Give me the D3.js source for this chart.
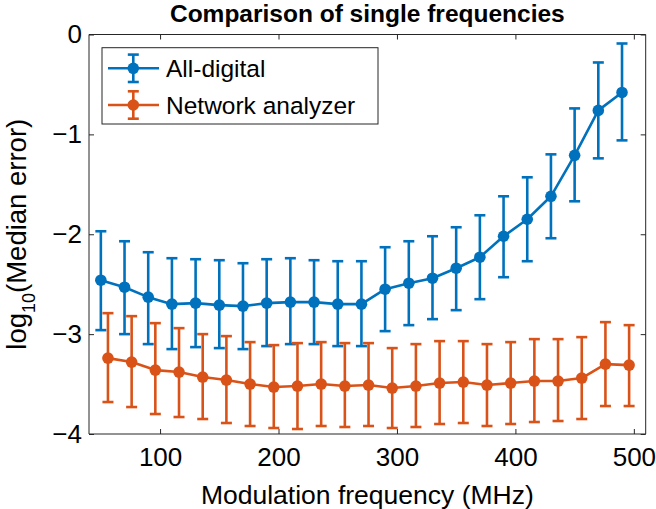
<!DOCTYPE html>
<html>
<head>
<meta charset="utf-8">
<script src="https://cdn.jsdelivr.net/npm/d3@7"></script>
<style>
  html, body { margin: 0; padding: 0; background: #fff; }
  svg { display: block; font-family: "Liberation Sans", Arial, sans-serif; }
</style>
</head>
<body>
<svg id="chart" width="656" height="509"></svg>
<script>
// ---- data ----
const blueX   = [50,70,90,110,130,150,170,190,210,230,250,270,290,310,330,350,370,390,410,430,450,470,490];
const blueY   = [-2.46,-2.53,-2.63,-2.70,-2.69,-2.71,-2.72,-2.69,-2.68,-2.68,-2.70,-2.70,-2.55,-2.49,-2.44,-2.34,-2.23,-2.02,-1.85,-1.62,-1.21,-0.76,-0.58];
const blueHi  = [-1.97,-2.07,-2.18,-2.24,-2.25,-2.26,-2.29,-2.25,-2.24,-2.26,-2.27,-2.27,-2.13,-2.07,-2.02,-1.93,-1.81,-1.62,-1.43,-1.20,-0.74,-0.28,-0.09];
const blueLo  = [-2.96,-3.00,-3.10,-3.15,-3.13,-3.14,-3.15,-3.12,-3.10,-3.10,-3.12,-3.12,-2.97,-2.91,-2.85,-2.76,-2.65,-2.43,-2.27,-2.04,-1.67,-1.24,-1.06];

const orangeX  = [56,76,96,116,136,156,176,196,216,236,256,276,296,316,336,356,376,396,416,436,456,476,496];
const orangeY  = [-3.24,-3.28,-3.36,-3.38,-3.43,-3.46,-3.50,-3.53,-3.52,-3.50,-3.52,-3.51,-3.54,-3.52,-3.49,-3.48,-3.51,-3.49,-3.47,-3.47,-3.44,-3.30,-3.31];
const orangeHi = [-2.79,-2.82,-2.89,-2.94,-3.00,-3.02,-3.08,-3.11,-3.09,-3.08,-3.09,-3.09,-3.14,-3.10,-3.07,-3.07,-3.10,-3.08,-3.05,-3.05,-3.03,-2.88,-2.91];
const orangeLo = [-3.68,-3.73,-3.80,-3.83,-3.85,-3.89,-3.92,-3.94,-3.95,-3.92,-3.93,-3.92,-3.94,-3.93,-3.90,-3.89,-3.92,-3.90,-3.88,-3.87,-3.85,-3.72,-3.72];

const seriesNames = ["All-digital", "Network analyzer"];
const seriesColors = ["#0072BD", "#D95319"];
const xTicks = [100, 200, 300, 400, 500];
const yTicks = [0, -1, -2, -3, -4];
const xDomain = [40, 510];
const yDomain = [-4, 0];
const titleText = "Comparison of single frequencies";
const xLabelText = "Modulation frequency (MHz)";

// ---- layout ----
const L = 89, R = 645.7, T = 34.5, B = 434;
const svg = d3.select("#chart");
const x = d3.scaleLinear().domain(xDomain).range([L, R]);
const y = d3.scaleLinear().domain(yDomain).range([B, T]);
const axisColor = "#262626";
const fmt = d => (d < 0 ? "\u2212" : "") + Math.abs(d);

// axes box and ticks
const gx = svg.append("g").attr("transform", `translate(0,${B})`)
  .call(d3.axisBottom(x).tickValues(xTicks).tickSize(-5).tickPadding(14).tickFormat(fmt));
const gxt = svg.append("g").attr("transform", `translate(0,${T})`)
  .call(d3.axisTop(x).tickValues(xTicks).tickSize(-5).tickFormat(""));
const gy = svg.append("g").attr("transform", `translate(${L},0)`)
  .call(d3.axisLeft(y).tickValues(yTicks).tickSize(-5).tickPadding(7).tickFormat(fmt));
const gyr = svg.append("g").attr("transform", `translate(${R},0)`)
  .call(d3.axisRight(y).tickValues(yTicks).tickSize(-5).tickFormat(""));

[gx, gxt, gy, gyr].forEach(g => {
  g.select(".domain").attr("stroke", axisColor).attr("stroke-width", 1);
  g.selectAll(".tick line").attr("stroke", axisColor).attr("stroke-width", 1);
  g.selectAll(".tick text").attr("fill", "#000").attr("font-size", 26)
    .attr("font-family", "'Liberation Sans', Arial, sans-serif");
});
gx.select(".domain").attr("d", `M${L},0H${R}`);
gxt.select(".domain").attr("d", `M${L},0H${R}`);
gy.select(".domain").attr("d", `M0,${T}V${B}`);
gyr.select(".domain").attr("d", `M0,${T}V${B}`);

// series
const all = [
  {xs: blueX, ys: blueY, hi: blueHi, lo: blueLo, color: seriesColors[0]},
  {xs: orangeX, ys: orangeY, hi: orangeHi, lo: orangeLo, color: seriesColors[1]}
];
const cap = 5.5, lw = 2.6, r = 5.8;
all.forEach(s => {
  const g = svg.append("g");
  const pts = s.xs.map((v, i) => ({x: v, y: s.ys[i], hi: s.hi[i], lo: s.lo[i]}));
  const bars = g.selectAll(".bar").data(pts).enter().append("g");
  bars.append("line").attr("x1", d => x(d.x)).attr("x2", d => x(d.x))
    .attr("y1", d => y(d.hi)).attr("y2", d => y(d.lo))
    .attr("stroke", s.color).attr("stroke-width", lw);
  bars.append("line").attr("x1", d => x(d.x) - cap).attr("x2", d => x(d.x) + cap)
    .attr("y1", d => y(d.hi)).attr("y2", d => y(d.hi))
    .attr("stroke", s.color).attr("stroke-width", lw);
  bars.append("line").attr("x1", d => x(d.x) - cap).attr("x2", d => x(d.x) + cap)
    .attr("y1", d => y(d.lo)).attr("y2", d => y(d.lo))
    .attr("stroke", s.color).attr("stroke-width", lw);
  g.append("path").datum(pts)
    .attr("d", d3.line().x(d => x(d.x)).y(d => y(d.y)))
    .attr("fill", "none").attr("stroke", s.color).attr("stroke-width", lw)
    .attr("stroke-linejoin", "round");
  g.selectAll("circle").data(pts).enter().append("circle")
    .attr("cx", d => x(d.x)).attr("cy", d => y(d.y)).attr("r", r)
    .attr("fill", s.color);
});

// legend
const lg = svg.append("g");
lg.append("rect").attr("x", 102).attr("y", 47.7).attr("width", 276).attr("height", 76.3)
  .attr("fill", "#fff").attr("stroke", axisColor).attr("stroke-width", 1);
const rows = [68.3, 105];
seriesNames.forEach((name, i) => {
  const cy = rows[i], c = seriesColors[i];
  lg.append("line").attr("x1", 108).attr("x2", 159).attr("y1", cy).attr("y2", cy)
    .attr("stroke", c).attr("stroke-width", lw);
  lg.append("line").attr("x1", 133.3).attr("x2", 133.3).attr("y1", cy - 13.7).attr("y2", cy + 13.7)
    .attr("stroke", c).attr("stroke-width", lw);
  lg.append("line").attr("x1", 133.3 - cap).attr("x2", 133.3 + cap).attr("y1", cy - 13.7).attr("y2", cy - 13.7)
    .attr("stroke", c).attr("stroke-width", lw);
  lg.append("line").attr("x1", 133.3 - cap).attr("x2", 133.3 + cap).attr("y1", cy + 13.7).attr("y2", cy + 13.7)
    .attr("stroke", c).attr("stroke-width", lw);
  lg.append("circle").attr("cx", 133.3).attr("cy", cy).attr("r", r).attr("fill", c);
  lg.append("text").attr("x", 166).attr("y", cy + 8.6).attr("font-size", 24.5)
    .attr("fill", "#000").text(name);
});

// title
svg.append("text").attr("x", (L + R) / 2).attr("y", 21.7).attr("text-anchor", "middle")
  .attr("font-size", 24.5).attr("font-weight", "bold").attr("fill", "#000").text(titleText);

// x label
svg.append("text").attr("x", (L + R) / 2).attr("y", 504).attr("text-anchor", "middle")
  .attr("font-size", 26.5).attr("fill", "#000").text(xLabelText);

// y label
const yl = svg.append("text").attr("transform", `translate(26,${(T + B) / 2}) rotate(-90)`)
  .attr("text-anchor", "middle").attr("font-size", 27.5).attr("fill", "#000");
yl.append("tspan").text("log");
yl.append("tspan").attr("dy", 9).attr("font-size", 18).text("10");
yl.append("tspan").attr("dy", -9).text("(Median error)");
</script>
</body>
</html>
